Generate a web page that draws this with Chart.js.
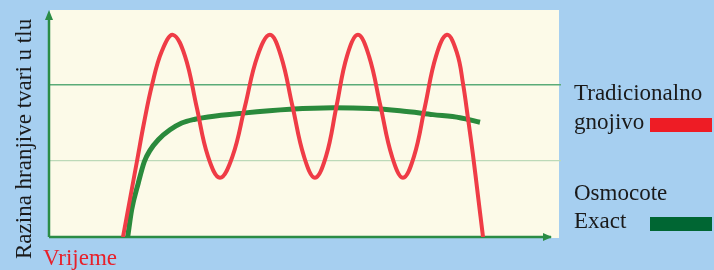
<!DOCTYPE html>
<html>
<head>
<meta charset="utf-8">
<script src="https://cdn.jsdelivr.net/npm/chart.js@4.4.1/dist/chart.umd.min.js"></script>
<style>
    html, body { margin: 0; padding: 0; background: #a6cff0; }
    #wrap { width: 714px; height: 270px; }
</style>
</head>
<body>
<div id="wrap"><canvas id="myChart" width="714" height="270"></canvas></div>
<script>
// time axis runs 0..100, level axis 0..3
const redTime = [14.45, 15.82, 17.19, 18.55, 20.12, 22.07, 24.22,
    26.56, 28.81, 31.05, 33.40,
    35.84, 38.28, 40.72, 43.16,
    45.31, 47.56, 49.80, 51.95,
    54.10, 56.15, 58.20, 60.35,
    62.50, 64.75, 66.99, 69.14,
    71.29, 73.44, 75.59, 77.73,
    79.69, 80.86, 81.84, 82.81, 83.79, 84.77];
const redLevel = [0, 0.5, 1.0, 1.5, 2.0, 2.45, 2.66,
    2.38, 1.72, 1.06, 0.78,
    1.06, 1.72, 2.38, 2.66,
    2.38, 1.72, 1.06, 0.78,
    1.06, 1.72, 2.38, 2.66,
    2.38, 1.72, 1.06, 0.78,
    1.06, 1.72, 2.38, 2.66,
    2.42, 2.02, 1.56, 1.08, 0.54, 0];

const greenTime = [15.37, 16.15, 17.44, 18.61, 19.73, 21.35, 23.63, 25.92, 28.52, 31.05, 37.89,
    47.07, 55.47, 62.70, 68.55, 75.0, 80.27, 84.18];
const greenLevel = [0, 0.36, 0.71, 0.99, 1.14, 1.28, 1.41, 1.50, 1.55, 1.58, 1.63,
    1.68, 1.70, 1.69, 1.66, 1.61, 1.57, 1.51];

const yTitle = 'Razina hranjive tvari u tlu';
const xTitle = 'Vrijeme';
const legendLines = [['Tradicionalno', 'gnojivo'], ['Osmocote', 'Exact']];
const swatchColors = ['#ee1c25', '#006633'];

const serif = '"Liberation Serif", "DejaVu Serif", serif';

const toPoints = (xs, ys) => xs.map((x, i) => ({ x: x, y: ys[i] }));

const decor = {
    id: 'decor',
    beforeDraw(chart) {
        const { ctx, chartArea: a } = chart;
        ctx.save();
        ctx.fillStyle = '#fcfae8';
        ctx.fillRect(a.left + 1, a.top + 1, a.right - a.left - 3, a.bottom - a.top);
        ctx.restore();
    },
    beforeDatasetsDraw(chart) {
        const { ctx, chartArea: a } = chart;
        const y0 = chart.scales.y.getPixelForValue(0);
        ctx.save();
        ctx.strokeStyle = '#2b8c45';
        ctx.fillStyle = '#2b8c45';
        ctx.lineWidth = 2.5;
        ctx.beginPath();
        ctx.moveTo(a.left, y0);
        ctx.lineTo(a.left, a.top + 6);
        ctx.moveTo(a.left, y0);
        ctx.lineTo(a.right - 10, y0);
        ctx.stroke();
        // arrow heads
        ctx.beginPath();
        ctx.moveTo(a.left, a.top + 1);
        ctx.lineTo(a.left - 4, a.top + 11);
        ctx.lineTo(a.left + 4, a.top + 11);
        ctx.closePath();
        ctx.fill();
        ctx.beginPath();
        ctx.moveTo(a.right - 9, y0);
        ctx.lineTo(a.right - 18, y0 - 4);
        ctx.lineTo(a.right - 18, y0 + 4);
        ctx.closePath();
        ctx.fill();
        ctx.restore();
    },
    afterDraw(chart) {
        const { ctx } = chart;
        ctx.save();
        ctx.font = '23px ' + serif;
        ctx.textBaseline = 'alphabetic';

        // y title, rotated
        ctx.save();
        ctx.translate(31, 259);
        ctx.rotate(-Math.PI / 2);
        ctx.fillStyle = '#1a1a1a';
        ctx.textAlign = 'left';
        ctx.fillText(yTitle, 0, 0);
        ctx.restore();

        // x title
        ctx.fillStyle = '#e8202a';
        ctx.fillText(xTitle, 43, 265);

        // legend
        const rows = [[100, 129], [200, 228]];
        ctx.fillStyle = '#1a1a1a';
        legendLines.forEach((lines, i) => {
            ctx.fillText(lines[0], 574, rows[i][0]);
            ctx.fillText(lines[1], 574, rows[i][1]);
            ctx.fillStyle = swatchColors[i];
            ctx.fillRect(650, rows[i][1] - 11, 62, 14);
            ctx.fillStyle = '#1a1a1a';
        });
        ctx.restore();
    }
};

document.addEventListener('DOMContentLoaded', function () {
    const ctx = document.getElementById('myChart').getContext('2d');
    new Chart(ctx, {
        type: 'line',
        data: {
            datasets: [{
                label: 'Tradicionalno gnojivo',
                data: toPoints(redTime, redLevel),
                borderColor: '#ef3c46',
                borderWidth: 4,
                pointRadius: 0,
                tension: 0.4,
            }, {
                label: 'Osmocote Exact',
                data: toPoints(greenTime, greenLevel),
                borderColor: '#2a8a3c',
                borderWidth: 5,
                pointRadius: 0,
                cubicInterpolationMode: 'monotone',
            }]
        },
        options: {
            responsive: false,
            animation: false,
            events: [],
            layout: { padding: { top: 9, right: 153, left: 0, bottom: 0 } },
            plugins: { legend: { display: false }, tooltip: { enabled: false } },
            scales: {
                x: {
                    type: 'linear',
                    min: 0,
                    max: 100,
                    grid: { display: false },
                    border: { display: false },
                    ticks: { display: false },
                    afterFit: s => { s.height = 33; },
                },
                y: {
                    min: 0,
                    max: 3,
                    ticks: { display: false, stepSize: 1 },
                    border: { display: false },
                    grid: {
                        drawTicks: false,
                        color: c => c.tick.value === 2 ? '#5aab78' : (c.tick.value === 1 ? '#bcd9b8' : 'rgba(0,0,0,0)'),
                        lineWidth: c => c.tick.value === 2 ? 1.5 : 1.2,
                    },
                    afterFit: s => { s.width = 49; },
                },
            },
        },
        plugins: [decor]
    });
});
</script>
</body>
</html>
